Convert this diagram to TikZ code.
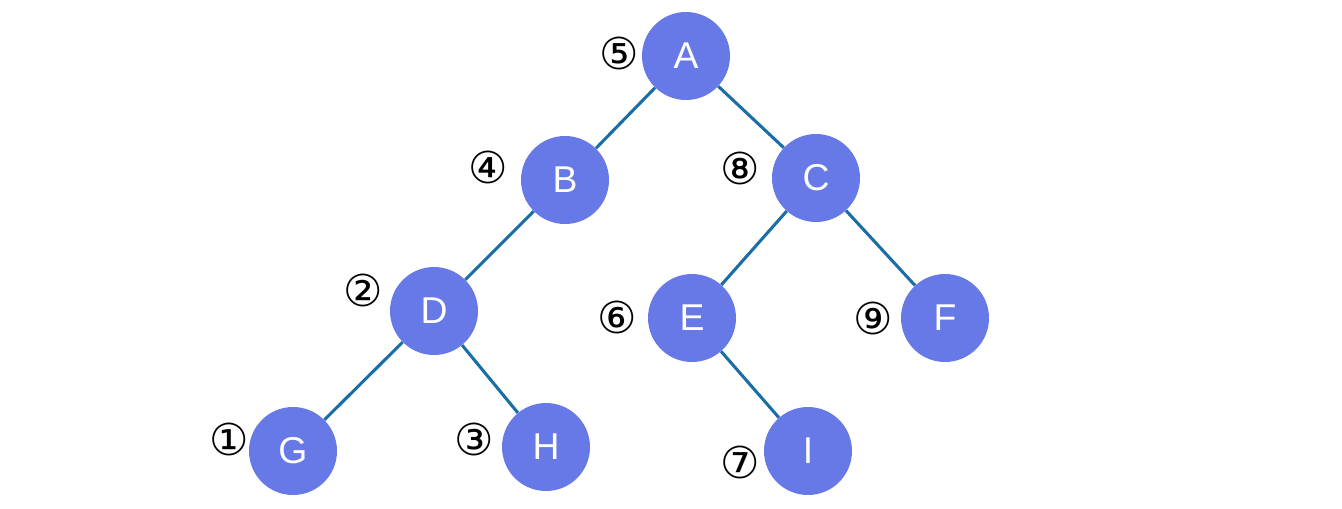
\documentclass[tikz,border=0pt]{standalone}
\usepackage{fontspec}
\setmainfont{Liberation Sans}
\newfontfamily\circfont{DejaVu Sans}
\usepackage{xcolor}
\definecolor{nodeblue}{RGB}{103,121,230}
\definecolor{edgeblue}{RGB}{26,110,165}
\tikzset{
  treenode/.style={circle, fill=nodeblue, draw=none, minimum size=66pt, inner sep=0pt,
    text=white, font=\fontsize{28}{28}\selectfont},
  treeedge/.style={draw=edgeblue, line width=2.3pt},
  ordlabel/.style={inner sep=0.75pt, font=\circfont\fontsize{33}{33}\selectfont}
}

\begin{document}
\begin{tikzpicture}[x=0.75pt,y=0.75pt,yscale=-1,xscale=1]
		\useasboundingbox (0,0) rectangle (1342,508);
		
		%Tree nodes
		\node [treenode] (A) at (686,56) {A};
		\node [treenode] (B) at (565,180) {B};
		\node [treenode] (C) at (816,178) {C};
		\node [treenode] (D) at (434,311) {D};
		\node [treenode] (E) at (692,318) {E};
		\node [treenode] (F) at (945,318) {F};
		\node [treenode] (G) at (293,451) {G};
		\node [treenode] (H) at (546,447) {H};
		\node [treenode] (I) at (808,451) {I};
		
		%Edges
		\draw [treeedge] (A) -- (B) ;
		\draw [treeedge] (A) -- (C) ;
		\draw [treeedge] (B) -- (D) ;
		\draw [treeedge] (D) -- (G) ;
		\draw [treeedge] (D) -- (H) ;
		\draw [treeedge] (C) -- (E) ;
		\draw [treeedge] (C) -- (F) ;
		\draw [treeedge] (E) -- (I) ;
		
		% Text Node
		\node [ordlabel] (nA) at (619,53) {⑤};
		% Text Node
		\node [ordlabel] (nB) at (488,167) {④};
		% Text Node
		\node [ordlabel] (nC) at (740,168) {⑧};
		% Text Node
		\node [ordlabel] (nD) at (363,290) {②};
		% Text Node
		\node [ordlabel] (nE) at (617,317) {⑥};
		% Text Node
		\node [ordlabel] (nF) at (873,318) {⑨};
		% Text Node
		\node [ordlabel] (nG) at (229,439) {①};
		% Text Node
		\node [ordlabel] (nH) at (474,439) {③};
		% Text Node
		\node [ordlabel] (nI) at (740,462) {⑦};
		
	\end{tikzpicture}
\end{document}
